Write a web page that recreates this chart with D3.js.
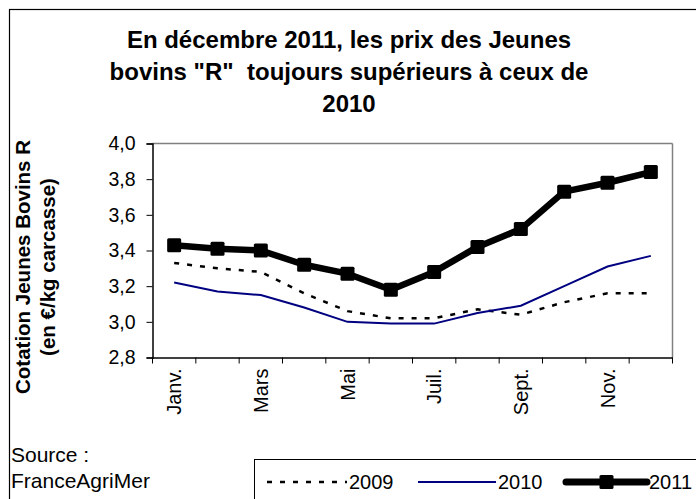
<!DOCTYPE html>
<html>
<head>
<meta charset="utf-8">
<style>
  body { margin: 0; background: #fff; }
  text { font-family: "Liberation Sans", Arial, sans-serif; fill: #000; white-space: pre; }
</style>
</head>
<body>
<script src="https://cdn.jsdelivr.net/npm/d3@7"></script>
<script>

var months = ["Janv.", "Févr.", "Mars", "Avr.", "Mai", "Juin", "Juil.", "Août", "Sept.", "Oct.", "Nov.", "Déc."];
var monthLabels = ["Janv.", "", "Mars", "", "Mai", "", "Juil.", "", "Sept.", "", "Nov.", ""];
var yTicks = [2.8, 3.0, 3.2, 3.4, 3.6, 3.8, 4.0];
var v2009 = [3.33, 3.30, 3.28, 3.16, 3.06, 3.02, 3.02, 3.07, 3.04, 3.11, 3.16, 3.16];
var v2010 = [3.22, 3.17, 3.15, 3.08, 3.00, 2.99, 2.99, 3.05, 3.09, 3.20, 3.31, 3.37];
var v2011 = [3.43, 3.41, 3.40, 3.32, 3.27, 3.18, 3.28, 3.42, 3.52, 3.73, 3.78, 3.84];
var titleLines = ["En décembre 2011, les prix des Jeunes", "bovins \"R\"  toujours supérieurs à ceux de", "2010"];
var yTitle = ["Cotation Jeunes Bovins R", "(en €/kg carcasse)"];

var W = 696, H = 499;
var margin = {top: 143.5, left: 152.5},
	width = 520, height = 214;

var fr = d3.formatLocale({decimal: ",", thousands: " ", grouping: [3], currency: ["", " €"]});
var fmt = fr.format(".1f");

var svg = d3.select("body").append("svg")
	.attr("width", W)
	.attr("height", H);

// outer frame (right and bottom are off the picture)
svg.append("rect")
	.attr("x", 9.5).attr("y", 9.5)
	.attr("width", 700).attr("height", 520)
	.attr("fill", "none").attr("stroke", "#000").attr("stroke-width", 1.2);

// title
svg.append("text")
	.attr("text-anchor", "middle")
	.attr("font-weight", "bold")
	.attr("font-size", 24)
	.selectAll("tspan")
	.data(titleLines)
	.enter().append("tspan")
		.attr("x", 349)
		.attr("y", (d, i) => 48 + i * 32)
		.text(d => d);

var g = svg.append("g")
	.attr("transform", `translate(${margin.left},${margin.top})`);

var x = d3.scaleBand()
	.domain(months)
	.range([0, width]);

var y = d3.scaleLinear()
	.domain([2.8, 4.0])
	.range([height, 0]);

// plot frame: grey top and right
g.append("line").attr("x1", 0).attr("x2", width).attr("y1", 0).attr("y2", 0)
	.attr("stroke", "#808080").attr("stroke-width", 1.5);
g.append("line").attr("x1", width).attr("x2", width).attr("y1", 0).attr("y2", height)
	.attr("stroke", "#808080").attr("stroke-width", 1.5);

// y axis
var yAxis = g.append("g")
	.call(d3.axisLeft(y).tickValues(yTicks).tickFormat(fmt).tickSize(6).tickPadding(11));
yAxis.select(".domain").attr("stroke-width", 1.5);
yAxis.selectAll("text").attr("font-size", 19.5).attr("font-family", "Liberation Sans, Arial, sans-serif");

// x axis: ticks at category boundaries
var xAxis = g.append("g")
	.attr("transform", `translate(0,${height})`)
	.call(d3.axisBottom(x).tickSize(0).tickFormat(""));
xAxis.select(".domain").attr("stroke-width", 1.5);
xAxis.selectAll(".bound")
	.data(d3.range(months.length + 1))
	.enter().append("line")
		.attr("x1", i => i * x.step())
		.attr("x2", i => i * x.step())
		.attr("y1", 0).attr("y2", 6)
		.attr("stroke", "#000");

g.selectAll(".mlabel")
	.data(months.filter((m, i) => monthLabels[i] !== ""))
	.enter().append("text")
		.attr("class", "mlabel")
		.attr("transform", d => `translate(${x(d) + x.bandwidth() / 2},${height + 11}) rotate(-90)`)
		.attr("text-anchor", "end")
		.attr("dy", "0.35em")
		.attr("font-size", 20)
		.text(d => monthLabels[months.indexOf(d)]);

// y axis title
svg.append("text")
	.attr("transform", "translate(0,267) rotate(-90)")
	.attr("text-anchor", "middle")
	.attr("font-weight", "bold")
	.attr("font-size", 20.5)
	.selectAll("tspan")
	.data(yTitle)
	.enter().append("tspan")
		.attr("x", 0)
		.attr("y", (d, i) => 30 + i * 25)
		.text(d => d);

var line = d3.line()
	.x((d, i) => x(months[i]) + x.bandwidth() / 2)
	.y(d => y(d));

g.append("path").datum(v2009)
	.attr("d", line)
	.attr("fill", "none").attr("stroke", "#000")
	.attr("stroke-width", 2.5).attr("stroke-dasharray", "5,8");

g.append("path").datum(v2010)
	.attr("d", line)
	.attr("fill", "none").attr("stroke", "#000080")
	.attr("stroke-width", 2);

g.append("path").datum(v2011)
	.attr("d", line)
	.attr("fill", "none").attr("stroke", "#000")
	.attr("stroke-width", 6.5).attr("stroke-linejoin", "round");

g.selectAll(".mk")
	.data(v2011)
	.enter().append("rect")
		.attr("x", (d, i) => x(months[i]) + x.bandwidth() / 2 - 7)
		.attr("y", d => y(d) - 7)
		.attr("width", 14).attr("height", 14)
		.attr("rx", 1.5)
		.attr("fill", "#000");

// source
svg.append("text").attr("x", 11).attr("y", 462).attr("font-size", 21).text("Source :");
svg.append("text").attr("x", 11).attr("y", 488).attr("font-size", 21).text("FranceAgriMer");

// legend
var lg = svg.append("g");
lg.append("rect")
	.attr("x", 254.5).attr("y", 459.5)
	.attr("width", 500).attr("height", 100)
	.attr("fill", "#fff").attr("stroke", "#000").attr("stroke-width", 1);

var legendItems = [
	{name: "2009", x0: 267, x1: 347},
	{name: "2010", x0: 418, x1: 496},
	{name: "2011", x0: 566, x1: 647}
];
var ly = 482;
lg.append("line").attr("x1", legendItems[0].x0).attr("x2", legendItems[0].x1)
	.attr("y1", ly).attr("y2", ly)
	.attr("stroke", "#000").attr("stroke-width", 2.5).attr("stroke-dasharray", "5,8");
lg.append("line").attr("x1", legendItems[1].x0).attr("x2", legendItems[1].x1)
	.attr("y1", ly).attr("y2", ly)
	.attr("stroke", "#000080").attr("stroke-width", 2);
lg.append("line").attr("x1", legendItems[2].x0).attr("x2", legendItems[2].x1)
	.attr("y1", ly).attr("y2", ly)
	.attr("stroke", "#000").attr("stroke-width", 7).attr("stroke-linecap", "round");
lg.append("rect")
	.attr("x", (legendItems[2].x0 + legendItems[2].x1) / 2 - 7).attr("y", ly - 7)
	.attr("width", 14).attr("height", 14).attr("rx", 1.5).attr("fill", "#000");
lg.selectAll(".lt")
	.data(legendItems)
	.enter().append("text")
		.attr("x", d => d.x1 + 2)
		.attr("y", ly + 7)
		.attr("font-size", 20)
		.text(d => d.name);

</script>
</body>
</html>
